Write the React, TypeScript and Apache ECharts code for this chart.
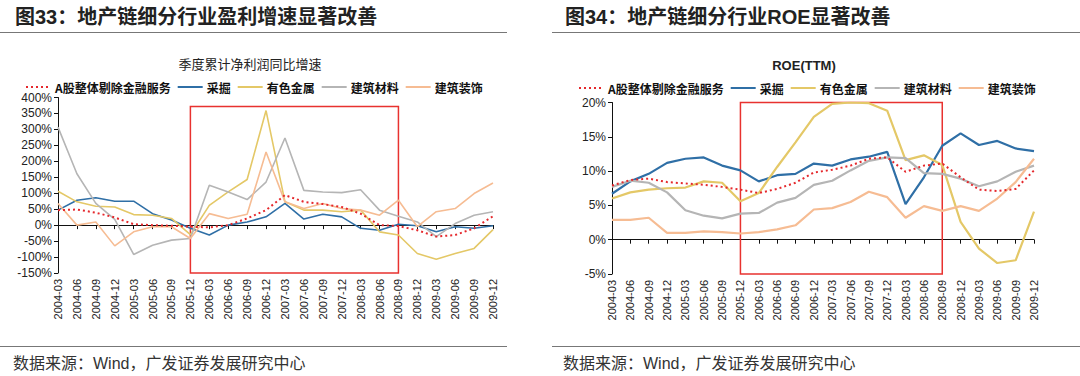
import React, { useEffect, useRef } from "react";
import * as echarts from "echarts";

const categories = [
  "2004-03", "2004-06", "2004-09", "2004-12",
  "2005-03", "2005-06", "2005-09", "2005-12",
  "2006-03", "2006-06", "2006-09", "2006-12",
  "2007-03", "2007-06", "2007-09", "2007-12",
  "2008-03", "2008-06", "2008-09", "2008-12",
  "2009-03", "2009-06", "2009-09", "2009-12",
];

const seriesNames = ["A股整体剔除金融服务", "采掘", "有色金属", "建筑材料", "建筑装饰"];

// 季度累计净利润同比增速 (%)
const profitA = [47, 49, 39, 24, 3, 0, -2, -5, -7, 0, 21, 47, 94, 73, 66, 57, 36, 0, -3, -16, -36, -31, -10, 28];
const profitMining = [47, 78, 86, 75, 75, 36, 16, -10, -31, 0, 10, 26, 68, 19, 34, 26, -10, -16, 3, -2, -21, -5, -10, -2];
const profitMetal = [106, 73, 59, 57, 33, 31, 21, -30, 62, 104, 143, 359, 73, 47, 47, 42, 47, -21, -31, -89, -107, -89, -73, -14];
const profitBuildMat = [307, 161, 68, 18, -92, -63, -47, -42, 125, 104, 80, 135, 273, 109, 104, 102, 111, 47, 28, 10, -36, 5, 31, 42];
const profitDeco = [68, 0, 10, -65, -21, -5, -5, -42, 36, 21, 34, 229, 73, 52, 68, 52, 47, 31, 78, -5, 42, 52, 99, 132];

// ROE(TTM) (%)
const roeA = [7.9, 8.7, 8.9, 8.4, 8.2, 8.0, 7.7, 7.3, 6.8, 7.4, 8.3, 9.8, 10.2, 10.8, 11.8, 12.0, 9.9, 10.8, 11.1, 9.1, 7.3, 7.1, 7.4, 10.1];
const roeMining = [6.7, 8.5, 9.6, 11.2, 11.8, 12.0, 10.8, 10.1, 8.5, 9.4, 9.6, 11.1, 10.8, 11.7, 12.1, 12.8, 5.2, 9.1, 13.7, 15.5, 13.8, 14.4, 13.3, 12.9];
const roeMetal = [6.0, 6.9, 7.3, 7.5, 7.6, 8.5, 8.3, 5.6, 6.8, 10.6, 14.2, 17.9, 19.8, 20.0, 19.9, 18.8, 11.6, 12.3, 10.9, 2.6, -1.3, -3.4, -3.0, 4.1];
const roeBuildMat = [7.7, 8.6, 8.3, 6.9, 4.3, 3.5, 3.1, 3.8, 3.9, 5.4, 6.1, 8.0, 8.6, 10.1, 11.5, 12.0, 11.9, 9.7, 9.6, 8.9, 7.8, 8.5, 9.9, 10.8];
const roeDeco = [2.9, 2.9, 3.2, 1.0, 1.0, 1.2, 1.1, 0.9, 1.1, 1.5, 2.1, 4.4, 4.6, 5.5, 7.0, 6.2, 3.2, 4.9, 4.2, 4.9, 4.2, 6.0, 8.4, 11.8];

// highlight box ranges
const boxStart = "2005-12";
const boxEnd = "2008-09";
const leftBoxY = [-150, 372];
const rightBoxY = [-5, 20.6];

const FONT = "'Liberation Sans', 'Noto Sans CJK SC', sans-serif";
const CJK = "'Noto Sans CJK SC', sans-serif";

const COLORS = {
  red: "#E5282C",
  blue: "#2F6FA6",
  yellow: "#E4C867",
  gray: "#B5B5B5",
  orange: "#F6BC93",
  box: "#E8322F",
};

export default function App() {
  const ref = useRef<HTMLDivElement>(null);

  useEffect(() => {
    if (!ref.current) return;
    const chart = echarts.init(ref.current, undefined, { renderer: "svg" });

    const makeSeries = (
      xi: number,
      yi: number,
      data: number[][],
      width: number,
      box: number[]
    ) => {
      const colors = [COLORS.red, COLORS.blue, COLORS.yellow, COLORS.gray, COLORS.orange];
      return data.map((d, i) => {
        const s: any = {
          name: seriesNames[i],
          type: "line",
          xAxisIndex: xi,
          yAxisIndex: yi,
          data: d,
          symbol: "none",
          z: i === 0 ? 5 : 3,
          color: colors[i],
          lineStyle:
            i === 0
              ? { color: colors[i], width: 2, type: [2, 3] }
              : { color: colors[i], width },
          emphasis: { disabled: true },
        };
        if (i === 1) {
          s.markArea = {
            silent: true,
            itemStyle: {
              color: "rgba(0,0,0,0)",
              borderColor: COLORS.box,
              borderWidth: 1.5,
            },
            data: [
              [
                { xAxis: boxStart, yAxis: box[0] },
                { xAxis: boxEnd, yAxis: box[1] },
              ],
            ],
          };
        }
        return s;
      });
    };

    const labelAxis = (gridIndex: number) => ({
      type: "category",
      gridIndex,
      data: categories,
      boundaryGap: false,
      position: "bottom",
      axisLine: { show: false, onZero: false },
      axisTick: { show: false },
      axisLabel: {
        interval: 0,
        rotate: 90,
        fontSize: 11,
        fontFamily: FONT,
        color: "#222",
        margin: 6,
      },
    });
    const zeroAxis = (gridIndex: number) => ({
      type: "category",
      gridIndex,
      data: categories,
      boundaryGap: false,
      position: "bottom",
      axisLine: { show: true, onZero: true, lineStyle: { color: "#111", width: 1 } },
      axisTick: { show: true, interval: 0, length: 4, lineStyle: { color: "#111" } },
      axisLabel: { show: false },
    });
    const valueAxis = (gridIndex: number, min: number, max: number, interval: number) => ({
      type: "value",
      gridIndex,
      min,
      max,
      interval,
      axisLine: { show: true, lineStyle: { color: "#111", width: 1 } },
      axisTick: { show: true, length: 4, lineStyle: { color: "#111" } },
      splitLine: { show: false },
      axisLabel: {
        formatter: "{value}%",
        fontSize: 12,
        fontFamily: FONT,
        color: "#222",
        margin: 6,
      },
    });

    const legendBase = {
      data: seriesNames,
      itemWidth: 25,
      itemHeight: 10,
      itemGap: 6,
      selectedMode: false,
      itemStyle: { color: "rgba(0,0,0,0)", borderColor: "rgba(0,0,0,0)", borderWidth: 0 },
      textStyle: { fontSize: 12, fontFamily: CJK, color: "#111", fontWeight: "bold", padding: [0, 0, 0, -1] },
    };

    const option: any = {
      animation: false,
      backgroundColor: "#fff",
      grid: [
        { left: 58, top: 97.5, width: 435, height: 175.5, containLabel: false },
        { left: 612, top: 102.5, width: 422, height: 171.5, containLabel: false },
      ],
      xAxis: [labelAxis(0), zeroAxis(0), labelAxis(1), zeroAxis(1)],
      yAxis: [valueAxis(0, -150, 400, 50), valueAxis(1, -5, 20, 5)],
      legend: [
        { ...legendBase, left: 20, top: 76 },
        { ...legendBase, left: 573, top: 77 },
      ],
      series: [
        ...makeSeries(0, 0, [profitA, profitMining, profitMetal, profitBuildMat, profitDeco], 1.6, leftBoxY),
        ...makeSeries(2, 1, [roeA, roeMining, roeMetal, roeBuildMat, roeDeco], 2.2, rightBoxY),
      ],
      graphic: [
        {
          type: "text",
          style: {
            x: 15, y: 17, text: "图33：地产链细分行业盈利增速显著改善",
            fontSize: 20, fontWeight: "bold", fontFamily: FONT, fill: "#222",
            verticalAlign: "middle",
          },
        },
        {
          type: "text",
          style: {
            x: 565, y: 17, text: "图34：地产链细分行业ROE显著改善",
            fontSize: 20, fontWeight: "bold", fontFamily: FONT, fill: "#222",
            verticalAlign: "middle",
          },
        },
        { type: "line", shape: { x1: 0, y1: 32.5, x2: 507, y2: 32.5 }, style: { stroke: "#777", lineWidth: 1 } },
        { type: "line", shape: { x1: 552, y1: 32.5, x2: 1080, y2: 32.5 }, style: { stroke: "#777", lineWidth: 1 } },
        {
          type: "text",
          style: {
            x: 250, y: 63, text: "季度累计净利润同比增速",
            fontSize: 13, fontFamily: CJK, fill: "#222", align: "center", verticalAlign: "middle",
          },
        },
        {
          type: "text",
          style: {
            x: 804, y: 65, text: "ROE(TTM)",
            fontSize: 13, fontWeight: "bold", fontFamily: FONT, fill: "#222", align: "center", verticalAlign: "middle",
          },
        },
        { type: "line", shape: { x1: 0, y1: 346.5, x2: 507, y2: 346.5 }, style: { stroke: "#777", lineWidth: 1 } },
        { type: "line", shape: { x1: 552, y1: 346.5, x2: 1080, y2: 346.5 }, style: { stroke: "#777", lineWidth: 1 } },
        {
          type: "text",
          style: {
            x: 13, y: 363, text: "数据来源：Wind，广发证券发展研究中心",
            fontSize: 16, fontFamily: FONT, fill: "#333", verticalAlign: "middle",
          },
        },
        {
          type: "text",
          style: {
            x: 563, y: 363, text: "数据来源：Wind，广发证券发展研究中心",
            fontSize: 16, fontFamily: FONT, fill: "#333", verticalAlign: "middle",
          },
        },
      ],
    };

    chart.setOption(option);
    return () => chart.dispose();
  }, []);

  return (
    <div
      ref={ref}
      style={{ position: "absolute", left: 0, top: 0, width: 1080, height: 376 }}
    />
  );
}
